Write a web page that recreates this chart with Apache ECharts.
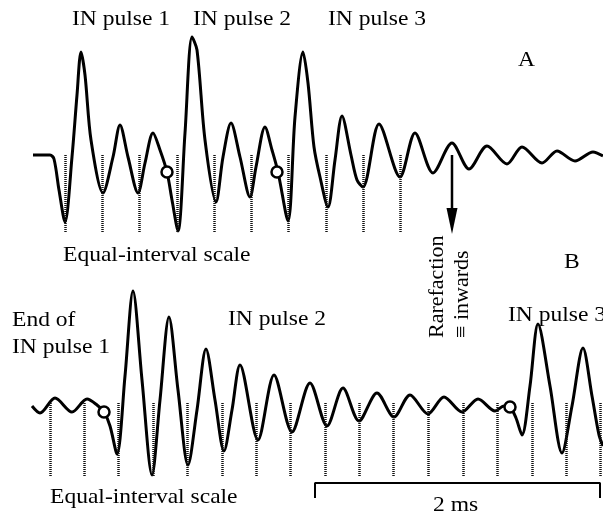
<!DOCTYPE html>
<html lang="en">

<head>
    <meta charset="UTF-8">
    <title>IN pulses</title>
    <script type="text/javascript" src="https://cdn.jsdelivr.net/npm/echarts@6/dist/echarts.min.js"></script>
    <style>
        body,
        html {
            margin: 0;
            padding: 0;
            background: #fff;
        }

        #chart {
            width: 603px;
            height: 518px;
        }
    </style>
</head>

<body>
    <div id="chart"></div>
</body>
<script type="text/javascript">
    // time in samples (0..603), amplitude relative to resting baseline
    var waveA = [
        [33, 0], [50, 0], [54, -4], [59, -35], [65, -67], [72, -2], [77, 60], [81, 103], [85, 80], [91, 15],
        [103, -38], [113, -2], [120, 30], [128, -2], [138, -38], [145, -8], [153, 22], [160, 5], [167, -17],
        [172, -45], [178, -76], [185, 22], [192, 118], [197, 105], [205, 15], [216, -47], [223, -2], [231, 32],
        [240, -2], [250, -42], [256, -12], [265, 28], [272, 5], [278, -17], [288, -66], [295, 38], [303, 103],
        [308, 72], [314, 8], [320, -22], [328, -52], [335, -5], [342, 39], [351, 0], [357, -25], [363, -32],
        [379, 31], [400, -22], [415, 22], [433, -18], [452, 12], [469, -14], [487, 9], [507, -9], [522, 8],
        [542, -8], [557, 4], [575, -6], [593, 3], [603, -1]
    ];
    var waveB = [
        [32, 0], [40, -7], [55, 8], [72, -6], [87, 7], [97, 1], [104, -6], [110, -20], [117, -48], [125, 30],
        [133, 115], [142, 26], [152, -69], [160, 6], [169, 89], [178, 16], [188, -59], [197, -4], [206, 57],
        [215, 6], [224, -45], [232, -4], [240, 41], [258, -34], [274, 31], [292, -26], [310, 23], [327, -20],
        [343, 18], [359, -15], [377, 13], [394, -11], [410, 11], [428, -8], [444, 9], [462, -6], [478, 7],
        [495, -5], [504, 0], [510, -1], [516, -12], [522, -29], [530, 20], [538, 82], [550, 20], [562, -47],
        [572, 0], [583, 58], [592, 10], [599, -29], [603, -40]
    ];

    // equal-interval scale ticks
    var ticksA = [65, 102, 139, 177, 214, 251, 288, 326, 363, 400];
    var ticksB = [50, 84, 118, 153, 187, 222, 256, 290, 325, 359, 393, 428, 463, 497, 532, 566, 600];
    var tickRangeA = [0, -78];
    var tickRangeB = [3, -71];

    // circled points
    var circlesA = [[167, -17], [277, -17]];
    var circlesB = [[104, -6], [510, -1]];

    // rarefaction arrow (shaft, head)
    var arrowShaft = [[452, 0], [452, -55]];
    var arrowHead = [[452, -66]];

    // 2 ms scale bar
    var scaleBar = [[315, -92], [315, -77], [600, -77], [600, -92]];

    var myChart = echarts.init(document.getElementById('chart'));

    function tickLines(ticks, range) {
        return ticks.map(function (x) {
            return [{ coord: [x, range[0]] }, { coord: [x, range[1]] }];
        });
    }

    var dotted = {
        silent: true,
        symbol: 'none',
        label: { show: false },
        lineStyle: { color: '#111', width: 2.5, type: [1, 1], opacity: 1 },
        emphasis: { disabled: true }
    };

    var serif = '"Liberation Serif", "Times New Roman", serif';

    function txt(s, x, y, opts) {
        opts = opts || {};
        return {
            type: 'text',
            x: x,
            y: y,
            rotation: opts.rotation || 0,
            scaleX: opts.rotation ? 1 : 1.07,
            silent: true,
            style: {
                text: s,
                fill: '#000',
                font: '22px ' + serif,
                align: 'left',
                verticalAlign: 'middle'
            }
        };
    }

    var ring = { color: '#fff', borderColor: '#000', borderWidth: 2.5, opacity: 1 };

    var option = {
        animation: false,
        grid: [
            { left: 0, top: 0, width: 603, height: 260 },
            { left: 0, top: 260, width: 603, height: 258 }
        ],
        xAxis: [
            { type: 'value', gridIndex: 0, min: 0, max: 603, show: false },
            { type: 'value', gridIndex: 1, min: 0, max: 603, show: false }
        ],
        yAxis: [
            { type: 'value', gridIndex: 0, min: -105, max: 155, show: false },
            { type: 'value', gridIndex: 1, min: -112, max: 146, show: false }
        ],
        graphic: [
            txt('IN pulse 1', 72, 19.5),
            txt('IN pulse 2', 193, 19.5),
            txt('IN pulse 3', 328, 19.5),
            txt('A', 518, 60.5),
            txt('Equal-interval scale', 63, 255.5),
            txt('Rarefaction', 437.5, 338, { rotation: Math.PI / 2 }),
            txt('\u2261 inwards', 462.5, 338, { rotation: Math.PI / 2 }),
            txt('B', 564, 262.5),
            txt('End of', 12, 320.5),
            txt('IN pulse 1', 12, 347.5),
            txt('IN pulse 2', 228, 319.5),
            txt('IN pulse 3', 508, 315.5),
            txt('Equal-interval scale', 50, 497.5),
            txt('2 ms', 433, 505.5)
        ],
        series: [
            {
                name: 'A',
                type: 'line',
                xAxisIndex: 0,
                yAxisIndex: 0,
                data: waveA,
                smooth: 0.3,
                symbol: 'none',
                lineStyle: { color: '#000', width: 3 },
                markLine: Object.assign({ data: tickLines(ticksA, tickRangeA) }, dotted),
                z: 3
            },
            {
                type: 'scatter',
                xAxisIndex: 0,
                yAxisIndex: 0,
                data: circlesA,
                symbol: 'circle',
                symbolSize: 11,
                itemStyle: ring,
                z: 5
            },
            {
                type: 'line',
                xAxisIndex: 0,
                yAxisIndex: 0,
                data: arrowShaft,
                symbol: 'none',
                lineStyle: { color: '#000', width: 2.5 },
                z: 4
            },
            {
                type: 'scatter',
                xAxisIndex: 0,
                yAxisIndex: 0,
                data: arrowHead,
                symbol: 'triangle',
                symbolRotate: 180,
                symbolSize: [11, 26],
                itemStyle: { color: '#000', opacity: 1 },
                z: 4
            },
            {
                name: 'B',
                type: 'line',
                xAxisIndex: 1,
                yAxisIndex: 1,
                data: waveB,
                smooth: 0.3,
                symbol: 'none',
                lineStyle: { color: '#000', width: 3 },
                markLine: Object.assign({ data: tickLines(ticksB, tickRangeB) }, dotted),
                z: 3
            },
            {
                type: 'scatter',
                xAxisIndex: 1,
                yAxisIndex: 1,
                data: circlesB,
                symbol: 'circle',
                symbolSize: 11,
                itemStyle: ring,
                z: 5
            },
            {
                type: 'line',
                xAxisIndex: 1,
                yAxisIndex: 1,
                data: scaleBar,
                symbol: 'none',
                lineStyle: { color: '#000', width: 2 },
                z: 4
            }
        ]
    };

    myChart.setOption(option);
</script>

</html>
